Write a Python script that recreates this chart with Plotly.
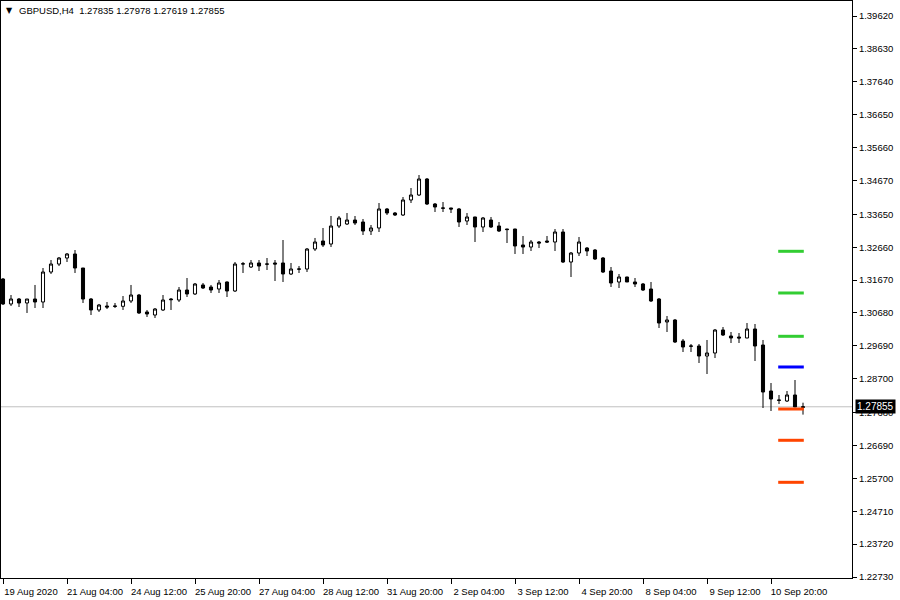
import plotly.graph_objects as go

symbol = "GBPUSD"
timeframe = "H4"

opens = [1.31702, 1.30950, 1.31100, 1.30980, 1.31100, 1.31010, 1.31913, 1.32153, 1.32334, 1.32455,
         1.32033, 1.31100, 1.30769, 1.30889, 1.30889, 1.30880, 1.31040, 1.31220, 1.30709, 1.30618,
         1.30769, 1.31100, 1.31070, 1.31371, 1.31251, 1.31522, 1.31461, 1.31401, 1.31612, 1.31341,
         1.32153, 1.32063, 1.32184, 1.32153, 1.32184, 1.32184, 1.31853, 1.32003, 1.32003, 1.32605,
         1.32846, 1.32756, 1.33298, 1.33358, 1.33478, 1.33418, 1.33147, 1.33238, 1.33810, 1.33689,
         1.33629, 1.34081, 1.34231, 1.34713, 1.33960, 1.33840, 1.33840, 1.33810, 1.33448, 1.33569,
         1.33268, 1.33478, 1.33298, 1.33207, 1.33207, 1.32726, 1.32665, 1.32816, 1.32846, 1.32816,
         1.33117, 1.32214, 1.32485, 1.32635, 1.32575, 1.32334, 1.31943, 1.31612, 1.31762, 1.31612,
         1.31552, 1.31401, 1.31100, 1.30408, 1.30468, 1.29835, 1.29685, 1.29685, 1.29384, 1.29474,
         1.30167, 1.29986, 1.29956, 1.29926, 1.30197, 1.29715, 1.28330, 1.28059, 1.28029, 1.28210,
         1.27835]
highs = [1.31732, 1.31220, 1.31130, 1.31100, 1.31522, 1.32033, 1.32274, 1.32364, 1.32485, 1.32575,
         1.32033, 1.31130, 1.30950, 1.31010, 1.30980, 1.31190, 1.31522, 1.31251, 1.30769, 1.30829,
         1.31220, 1.31130, 1.31461, 1.31732, 1.31582, 1.31582, 1.31522, 1.31672, 1.31630, 1.32214,
         1.32214, 1.32274, 1.32274, 1.32334, 1.32274, 1.32876, 1.32184, 1.32093, 1.32635, 1.32937,
         1.33238, 1.33599, 1.33599, 1.33689, 1.33599, 1.33509, 1.33328, 1.33990, 1.33840, 1.33719,
         1.34171, 1.34442, 1.34833, 1.34743, 1.33990, 1.34020, 1.33845, 1.33840, 1.33689, 1.33575,
         1.33569, 1.33569, 1.33418, 1.33215, 1.33215, 1.32997, 1.32876, 1.32846, 1.32997, 1.33207,
         1.33207, 1.32515, 1.32967, 1.32665, 1.32605, 1.32364, 1.32063, 1.31853, 1.31770, 1.31732,
         1.31582, 1.31612, 1.31130, 1.30588, 1.30498, 1.29896, 1.29745, 1.29745, 1.29866, 1.30197,
         1.30257, 1.30106, 1.30076, 1.30377, 1.30347, 1.29866, 1.28571, 1.28210, 1.28330, 1.28661,
         1.27978]
lows = [1.30919, 1.30889, 1.30859, 1.30679, 1.30829, 1.30829, 1.31853, 1.32093, 1.32214, 1.31883,
        1.30980, 1.30618, 1.30709, 1.30799, 1.30829, 1.30769, 1.30980, 1.30649, 1.30558, 1.30528,
        1.30739, 1.30769, 1.31010, 1.31160, 1.31220, 1.31401, 1.31281, 1.31281, 1.31160, 1.31311,
        1.31883, 1.32033, 1.31943, 1.31973, 1.31642, 1.31612, 1.31822, 1.31883, 1.31913, 1.32545,
        1.32665, 1.32665, 1.33238, 1.33328, 1.33328, 1.33027, 1.33027, 1.33117, 1.33629, 1.33599,
        1.33599, 1.33990, 1.34201, 1.33930, 1.33719, 1.33719, 1.33689, 1.33268, 1.33328, 1.32816,
        1.33117, 1.33238, 1.33117, 1.32786, 1.32455, 1.32455, 1.32545, 1.32635, 1.32786, 1.32545,
        1.32184, 1.31762, 1.32394, 1.32394, 1.32274, 1.31883, 1.31461, 1.31431, 1.31612, 1.31461,
        1.31341, 1.31010, 1.30227, 1.30106, 1.29775, 1.29504, 1.29504, 1.29173, 1.28842, 1.29323,
        1.29986, 1.29775, 1.29775, 1.29920, 1.29233, 1.27818, 1.27728, 1.27939, 1.27999, 1.27849,
        1.27619]
closes = [1.30950, 1.31100, 1.30980, 1.31100, 1.31010, 1.31913, 1.32153, 1.32334, 1.32455, 1.32033,
          1.31100, 1.30769, 1.30919, 1.30859, 1.30880, 1.31040, 1.31220, 1.30679, 1.30649, 1.30799,
          1.31070, 1.31080, 1.31371, 1.31251, 1.31552, 1.31431, 1.31371, 1.31582, 1.31341, 1.32153,
          1.32160, 1.32184, 1.32093, 1.32150, 1.32153, 1.31853, 1.32003, 1.32000, 1.32605, 1.32816,
          1.32726, 1.33298, 1.33539, 1.33478, 1.33388, 1.33147, 1.33238, 1.33810, 1.33689, 1.33629,
          1.34081, 1.34231, 1.34713, 1.33960, 1.33870, 1.33835, 1.33810, 1.33418, 1.33569, 1.33268,
          1.33539, 1.33268, 1.33147, 1.33190, 1.32696, 1.32665, 1.32816, 1.32786, 1.32816, 1.33117,
          1.32214, 1.32485, 1.32816, 1.32545, 1.32304, 1.31913, 1.31582, 1.31762, 1.31612, 1.31552,
          1.31371, 1.31040, 1.30377, 1.30468, 1.29805, 1.29655, 1.29680, 1.29384, 1.29474, 1.30167,
          1.30016, 1.29926, 1.29926, 1.30197, 1.29685, 1.28300, 1.28089, 1.28050, 1.28210, 1.27849,
          1.27855]

tick_index = [0, 8, 16, 24, 32, 40, 48, 56, 64, 72, 80, 88, 96]
tick_labels = ["19 Aug 2020", "21 Aug 04:00", "24 Aug 12:00", "25 Aug 20:00", "27 Aug 04:00",
               "28 Aug 12:00", "31 Aug 20:00", "2 Sep 04:00", "3 Sep 12:00", "4 Sep 20:00",
               "8 Sep 04:00", "9 Sep 12:00", "10 Sep 20:00"]

price_ticks = [1.39620, 1.38630, 1.37640, 1.36650, 1.35660, 1.34670, 1.33650, 1.32660, 1.31670,
               1.30680, 1.29690, 1.28700, 1.27680, 1.26690, 1.25700, 1.24710, 1.23720, 1.22730]

level_prices = [1.32536, 1.31281, 1.29977, 1.29053, 1.27788, 1.26846, 1.25581]
level_colors = ["#32CD32", "#32CD32", "#32CD32", "#0000FF", "#FF4500", "#FF4500", "#FF4500"]

bid = closes[-1]
idx = list(range(len(opens)))

FONT = "Tahoma, Liberation Sans, Arial, sans-serif"

fig = go.Figure()

fig.add_trace(go.Candlestick(
    x=idx, open=opens, high=highs, low=lows, close=closes,
    increasing=dict(line=dict(color="black", width=1), fillcolor="white"),
    decreasing=dict(line=dict(color="black", width=1), fillcolor="black"),
    whiskerwidth=0, showlegend=False, hoverinfo="skip",
))

last = idx[-1]
for p, col in zip(level_prices, level_colors):
    fig.add_trace(go.Scatter(
        x=[last - 3.1, last + 0.1], y=[p, p], mode="lines",
        line=dict(color=col, width=3), showlegend=False, hoverinfo="skip",
    ))

fig.add_shape(type="line", xref="paper", x0=0, x1=1, yref="y", y0=bid, y1=bid,
              line=dict(color="#C0C0C0", width=1), layer="below")

fig.add_annotation(xref="paper", x=1, yref="y", y=bid, text=f"{bid:.5f}",
                   xanchor="left", yanchor="middle", xshift=3, showarrow=False,
                   bgcolor="black", font=dict(color="white", size=10, family=FONT),
                   borderpad=1)

fig.add_annotation(xref="paper", x=0, yref="paper", y=1, text="▼",
                   xanchor="left", yanchor="top", xshift=3, yshift=-3, showarrow=False,
                   font=dict(color="black", size=8, family="DejaVu Sans"))
fig.add_annotation(xref="paper", x=0, yref="paper", y=1,
                   text=f"{symbol},{timeframe}&nbsp;&nbsp;{opens[-1]:.5f} {highs[-1]:.5f} {lows[-1]:.5f} {closes[-1]:.5f}",
                   xanchor="left", yanchor="top", xshift=16, yshift=-2, showarrow=False,
                   font=dict(color="black", size=9.5, family=FONT))

fig.update_layout(
    width=900, height=600,
    margin=dict(l=1, r=48, t=1, b=22),
    paper_bgcolor="white", plot_bgcolor="white",
    boxgap=0.45,
    showlegend=False,
    font=dict(family=FONT, size=9.5, color="black"),
    xaxis=dict(
        range=[-0.25, 106.125], rangeslider=dict(visible=False),
        showgrid=False, zeroline=False,
        showline=True, linecolor="black", linewidth=1, mirror=True,
        tickmode="array", tickvals=tick_index, ticktext=tick_labels,
        ticks="outside", ticklen=5, tickcolor="black", ticklabelshift=28,
        tickfont=dict(size=9.5, family=FONT, color="black"),
    ),
    yaxis=dict(
        range=[1.22700, 1.40072], side="right",
        showgrid=False, zeroline=False,
        showline=True, linecolor="black", linewidth=1, mirror=True,
        tickmode="array", tickvals=price_ticks, ticktext=[f"{v:.5f}" for v in price_ticks],
        ticks="outside", ticklen=4, tickcolor="black",
        tickfont=dict(size=9.5, family=FONT, color="black"),
    ),
)

fig.write_html("out.html", config={"displayModeBar": False},
               post_script="document.body.style.margin='0';")
